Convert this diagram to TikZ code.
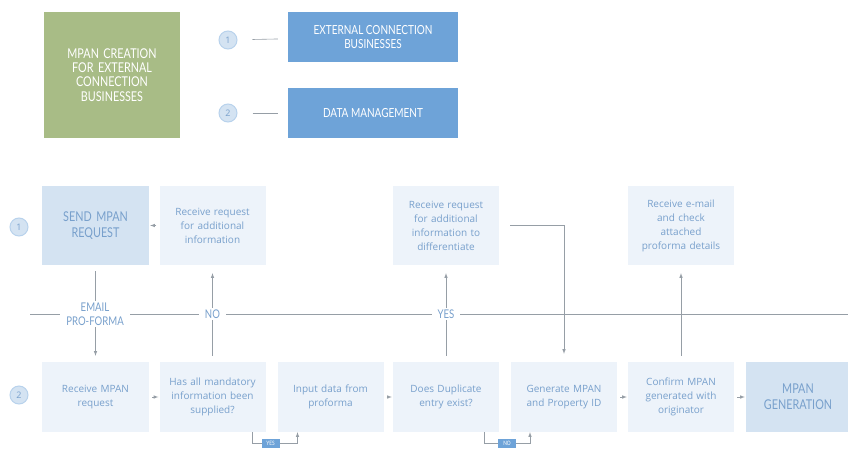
\documentclass[tikz,border=0pt]{standalone}
\usepackage{fontspec}
\setmainfont{Open Sans}
\newfontfamily\capsfont[FakeStretch=0.8]{Lato}
\definecolor{leafgreen}{RGB}{168,188,134}
\definecolor{laneblue}{RGB}{110,163,216}
\definecolor{paleblue}{RGB}{237,243,250}
\definecolor{midblue}{RGB}{212,227,242}
\definecolor{inkblue}{RGB}{120,160,204}
\definecolor{ringblue}{RGB}{184,210,236}
\definecolor{wire}{RGB}{150,158,166}
\begin{document}
\begin{tikzpicture}[x=1pt,y=-1pt]
	\tikzstyle{every node}=[font=\fontsize{10}{14}\selectfont]
	\tikzstyle{stepbox}=[fill=paleblue, text=inkblue, minimum width=106pt, text width=100pt, align=center, inner sep=0pt]
	\tikzstyle{keybox}=[stepbox, fill=midblue, font=\capsfont\fontsize{13.5}{16}\selectfont]
	\tikzstyle{bignum}=[circle, fill=midblue, draw=ringblue, line width=1pt, text=inkblue, minimum size=18pt, inner sep=0pt, font=\fontsize{9}{9}\selectfont]
	\tikzstyle{wire}=[draw=wire, line width=0.6pt]
	\tikzstyle{arr}=[wire, -latex]
	\tikzstyle{divlabel}=[fill=white, text=inkblue, align=center, inner xsep=6pt, inner ysep=2pt, font=\capsfont\fontsize{12}{14}\selectfont]
	\tikzstyle{tag}=[fill=laneblue, text=white, minimum width=18pt, minimum height=9pt, inner sep=0pt, font=\capsfont\fontsize{6}{6}\selectfont]
	\useasboundingbox (0,0) rectangle (848,450);

	% legend
	\node [fill=leafgreen, text=white, minimum width=136pt, minimum height=126pt, text width=124pt, align=center, font=\capsfont\fontsize{13.5}{14.3}\selectfont] (title) at (112,75) {MPAN CREATION\\FOR EXTERNAL\\CONNECTION\\BUSINESSES};
	\node [bignum] (key1) at (228,40) {1};
	\node [bignum] (key2) at (228,113) {2};
	\node [fill=laneblue, text=white, minimum width=170pt, minimum height=50pt, align=center, font=\capsfont\fontsize{12.5}{14}\selectfont] (ecb) at (373,37) {EXTERNAL CONNECTION\\BUSINESSES};
	\node [fill=laneblue, text=white, minimum width=170pt, minimum height=50pt, align=center, font=\capsfont\fontsize{12.5}{14}\selectfont] (dm) at (373,113) {DATA MANAGEMENT};
	\draw [wire, shorten <=15pt, shorten >=10pt] (key1) -- (ecb);
	\draw [wire, shorten <=15pt, shorten >=10pt] (key2) -- (dm);

	% lane 1
	\node [bignum] (lane1) at (19,227) {1};
	\node [keybox, minimum width=107pt, minimum height=79pt] (send) at (95.5,225.5) {SEND MPAN\\REQUEST};
	\node [stepbox, minimum height=79pt] (moreinfo) at (212.5,225.5) {Receive request\\for additional\\information};
	\node [stepbox, minimum height=79pt] (diffinfo) at (446,225.5) {Receive request\\for additional\\information to\\differentiate};
	\node [stepbox, minimum height=79pt] (checkmail) at (681,225.5) {Receive e-mail\\and check\\attached\\proforma details};

	% lane 2
	\node [bignum] (lane2) at (19,395) {2};
	\node [stepbox, minimum width=107pt, minimum height=70pt] (recv) at (95.5,397) {Receive MPAN\\request};
	\node [stepbox, minimum height=70pt] (hasall) at (212.5,397) {Has all mandatory\\information been\\supplied?};
	\node [stepbox, minimum height=70pt] (input) at (330.5,397) {Input data from\\proforma};
	\node [stepbox, minimum height=70pt] (dupe) at (446,397) {Does Duplicate\\entry exist?};
	\node [stepbox, minimum height=70pt] (gen) at (564,397) {Generate MPAN\\and Property ID};
	\node [stepbox, minimum height=70pt] (confirm) at (681,397) {Confirm MPAN\\generated with\\originator};
	\node [keybox, minimum width=104pt, minimum height=70pt] (done) at (798,397) {MPAN\\GENERATION};

	% connectors
	\draw [arr, shorten <=3pt, shorten >=1pt] (moreinfo) -- (send);
	\draw [arr, shorten <=6pt, shorten >=6pt] (send) -- (recv);
	\draw [arr, shorten <=6pt, shorten >=8pt] (hasall) -- (moreinfo);
	\draw [arr, shorten <=6pt, shorten >=8pt] (dupe) -- (diffinfo);
	\draw [arr, shorten <=6pt, shorten >=8pt] (confirm) -- (checkmail);
	\draw [arr, shorten <=11pt, shorten >=8pt] (diffinfo.east) -| (gen.north);
	\draw [arr, shorten <=3pt, shorten >=1pt] (recv) -- (hasall);
	\draw [arr, shorten <=3pt, shorten >=1pt] (input) -- (dupe);
	\draw [arr, shorten <=3pt, shorten >=1pt] (gen) -- (confirm);
	\draw [arr, shorten <=3pt, shorten >=1pt] (confirm) -- (done);
	\draw [arr] ([xshift=40pt]hasall.south) -- ++(0,11) -| node [tag, pos=0.2] (yestag) {YES} ([xshift=-33pt]input.south);
	\draw [arr] ([xshift=38pt]dupe.south) -- ++(0,11) -| node [tag, pos=0.25] (notag) {NO} ([xshift=-34pt]gen.south);

	% divider between the lanes
	\draw [wire] (30,314) -- (848,314);
	\node [divlabel] (email) at (95,314) {EMAIL\\PRO-FORMA};
	\node [divlabel] (nolabel) at (212.5,314) {NO};
	\node [divlabel] (yeslabel) at (446,314) {YES};
\end{tikzpicture}
\end{document}
